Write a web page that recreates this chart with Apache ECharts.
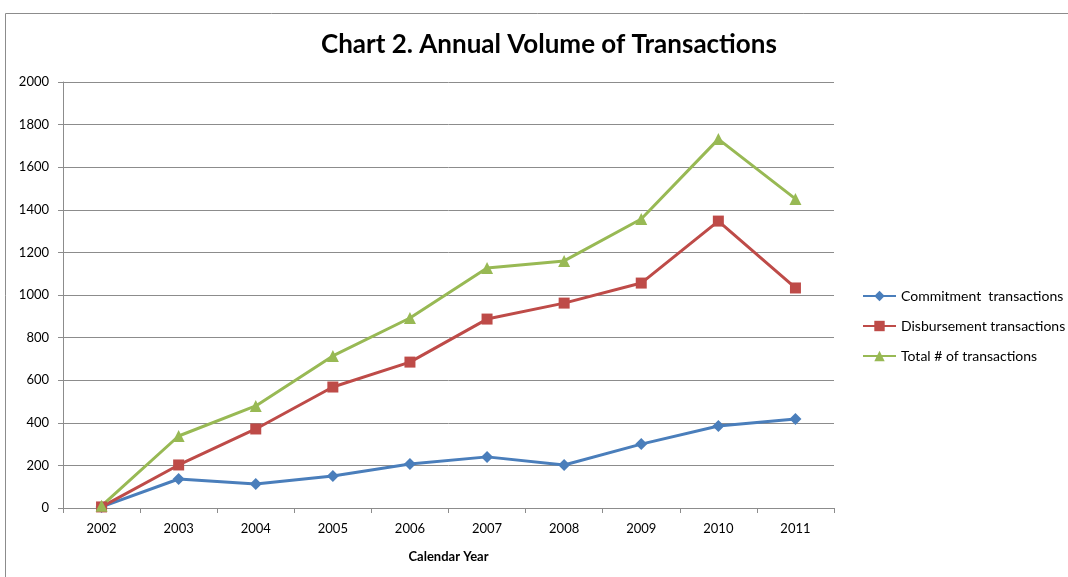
<!DOCTYPE html>
<html lang="en">
<head>
    <meta charset="UTF-8">
    <title>Chart 2. Annual Volume of Transactions</title>
    <script type="text/javascript" src="https://cdn.jsdelivr.net/npm/echarts@6/dist/echarts.min.js"></script>
    <style>
        html, body { margin: 0; padding: 0; background: #fff; }
    </style>
</head>
<body>
<div id="main" style="width: 1068px;height:577px;"></div>
<script>
    // data
    var years = ['2002', '2003', '2004', '2005', '2006', '2007', '2008', '2009', '2010', '2011'];
    var commitment = [5, 136, 113, 150, 207, 240, 202, 300, 385, 418];
    var disbursement = [5, 202, 371, 568, 685, 887, 962, 1056, 1347, 1033];
    var total = [10, 338, 479, 714, 892, 1127, 1160, 1357, 1732, 1451];
    var yTicks = [0, 200, 400, 600, 800, 1000, 1200, 1400, 1600, 1800, 2000];

    var chart = echarts.init(document.getElementById('main'));
    var font = 'Lato, "Open Sans", sans-serif';

    var option = {
        animation: false,
        textStyle: { fontFamily: font },
        title: {
            text: 'Chart 2. Annual Volume of Transactions',
            left: 316,
            top: 27,
            textStyle: { fontFamily: font, fontSize: 26, fontWeight: 'bold', color: '#000' }
        },
        graphic: [{
            type: 'rect',
            shape: { x: 5.5, y: 13.5, width: 1200, height: 700 },
            style: { fill: 'none', stroke: '#8c8c8c', lineWidth: 1 },
            silent: true
        }],
        legend: {
            orient: 'vertical',
            left: 857,
            top: 284,
            itemWidth: 33,
            itemHeight: 13,
            itemGap: 16,
            textStyle: { fontFamily: font, fontSize: 14, color: '#000' },
            data: ['Commitment  transactions', 'Disbursement transactions', 'Total # of transactions']
        },
        grid: { left: 63, right: 234, top: 82, bottom: 69, containLabel: false },
        xAxis: {
            type: 'category',
            data: years,
            boundaryGap: true,
            name: 'Calendar Year',
            nameLocation: 'middle',
            nameGap: 42,
            nameTextStyle: { fontFamily: font, fontSize: 13, fontWeight: 'bold', color: '#000' },
            axisLine: { lineStyle: { color: '#8c8c8c', width: 1 } },
            axisTick: { show: true, alignWithLabel: false, length: 5, lineStyle: { color: '#8c8c8c' } },
            axisLabel: { fontSize: 13, color: '#000', margin: 14 },
            splitLine: { show: false }
        },
        yAxis: {
            type: 'value',
            min: 0,
            max: 2000,
            interval: 200,
            axisLine: { show: true, lineStyle: { color: '#8c8c8c', width: 1 } },
            axisTick: { show: true, length: 5, lineStyle: { color: '#8c8c8c' } },
            axisLabel: {
                fontSize: 13, color: '#000', margin: 14,
                formatter: function (v) { return yTicks.indexOf(v) >= 0 ? String(v) : ''; }
            },
            splitLine: { show: true, lineStyle: { color: '#8c8c8c', width: 1 } }
        },
        series: [{
            name: 'Commitment  transactions',
            type: 'line',
            data: commitment,
            color: '#4A7EBB',
            symbol: 'diamond',
            symbolSize: 12,
            lineStyle: { width: 3 }
        }, {
            name: 'Disbursement transactions',
            type: 'line',
            data: disbursement,
            color: '#BE4B48',
            symbol: 'rect',
            symbolSize: 11,
            lineStyle: { width: 3 }
        }, {
            name: 'Total # of transactions',
            type: 'line',
            data: total,
            color: '#98B954',
            symbol: 'triangle',
            symbolSize: 12,
            lineStyle: { width: 3 }
        }]
    };
    chart.setOption(option);
</script>
</body>
</html>
